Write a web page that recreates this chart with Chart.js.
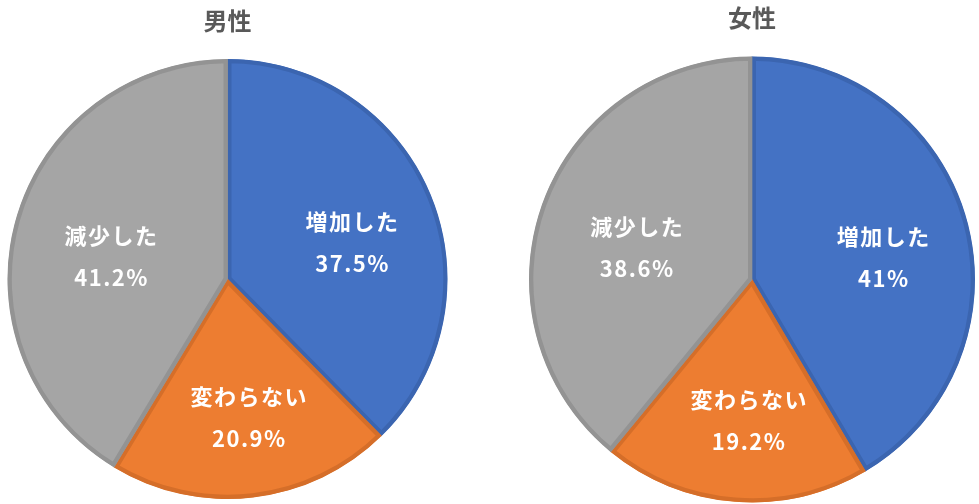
<!DOCTYPE html>
<html lang="ja">
<head>
<meta charset="utf-8">
<script src="https://cdn.jsdelivr.net/npm/chart.js@4.4.1/dist/chart.umd.min.js"></script>
<style>
  html, body { margin: 0; padding: 0; background: #fff; }
  body { width: 979px; height: 504px; position: relative; overflow: hidden; }
  .box { position: absolute; top: 0; width: 455px; height: 504px; }
</style>
</head>
<body>
<div class="box" style="left:0"><canvas id="maleChart"></canvas></div>
<div class="box" style="left:520px"><canvas id="femaleChart"></canvas></div>
<script>
// data
const categories = ["増加した", "変わらない", "減少した"];
const maleValues = [37.5, 20.9, 41.2];
const femaleValues = [41, 19.2, 38.6];
const chartTitles = ["男性", "女性"];

const fillColors = ["#4472C4", "#ED7D31", "#A5A5A5"];
const edgeColors = ["#3B65B0", "#D56E29", "#939393"];

const FONT = "'Noto Sans CJK JP', 'Noto Sans', sans-serif";

// labels drawn inside each slice: name + percentage
const sliceLabels = {
  id: "sliceLabels",
  afterDatasetsDraw(chart) {
    const ctx = chart.ctx;
    const meta = chart.getDatasetMeta(0);
    const values = chart.data.datasets[0].data;
    ctx.save();
    ctx.fillStyle = "#ffffff";
    ctx.textAlign = "center";
    ctx.textBaseline = "middle";
    ctx.font = "bold 22px " + FONT;
    if ("letterSpacing" in ctx) ctx.letterSpacing = "1.5px";
    meta.data.forEach((arc, i) => {
      const p = arc.getProps(["x", "y", "startAngle", "endAngle", "outerRadius"], true);
      const mid = (p.startAngle + p.endAngle) / 2;
      const r = p.outerRadius * 0.58;
      const cx = p.x + Math.cos(mid) * r + 7;
      const cy = p.y + Math.sin(mid) * r + 12;
      ctx.fillText(chart.data.labels[i], cx, cy - 21);
      ctx.fillText(values[i] + "%", cx, cy + 21);
    });
    ctx.restore();
  }
};

function makePie(el, title, values, pad) {
  return new Chart(el, {
    type: "pie",
    data: {
      labels: categories,
      datasets: [{
        data: values,
        backgroundColor: fillColors,
        borderColor: edgeColors,
        borderWidth: 4,
        borderAlign: "inner",
        hoverOffset: 0,
      }]
    },
    options: {
      responsive: true,
      maintainAspectRatio: false,
      animation: false,
      layout: { padding: pad.layout },
      events: [],
      plugins: {
        title: {
          display: true,
          text: title,
          color: "#595959",
          font: { size: 24, weight: "bold", family: FONT, lineHeight: 1.2 },
          padding: pad.title,
        },
        legend: { display: false },
        tooltip: { enabled: false },
      },
    },
    plugins: [sliceLabels],
  });
}

makePie(document.getElementById("maleChart"), chartTitles[0], maleValues, {
  layout: { left: 7.5, right: 7.5, top: 0, bottom: 5 },
  title: { top: 6.6, bottom: 23.6 },
});
makePie(document.getElementById("femaleChart"), chartTitles[1], femaleValues, {
  layout: { left: 9, right: 0, top: 0, bottom: 1.5 },
  title: { top: 3.1, bottom: 24.6 },
});
</script>
</body>
</html>
